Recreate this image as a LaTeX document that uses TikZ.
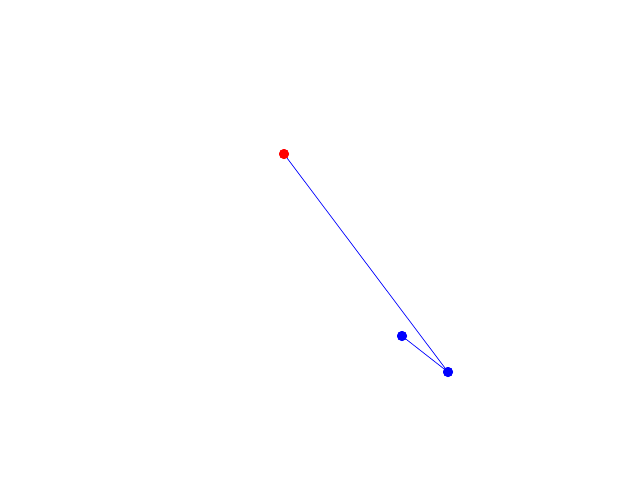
\documentclass[tikz,border=0pt]{standalone}
\begin{document}
\begin{tikzpicture}[x=1pt,y=-1pt,
  dot/.style={circle,inner sep=0pt,minimum size=10pt},
  link/.style={blue,line width=0.7pt}]
\useasboundingbox (0,0) rectangle (640,480);
\node[dot,fill=red] (r) at (284,154) {};
\node[dot,fill=blue] (b1) at (402,336) {};
\node[dot,fill=blue] (b2) at (448,372) {};
\draw[link] (r.center) -- (b2.center);
\draw[link] (b1.center) -- (b2.center);
\node[dot,fill=red] at (r) {};
\node[dot,fill=blue] at (b1) {};
\node[dot,fill=blue] at (b2) {};
\end{tikzpicture}
\end{document}
